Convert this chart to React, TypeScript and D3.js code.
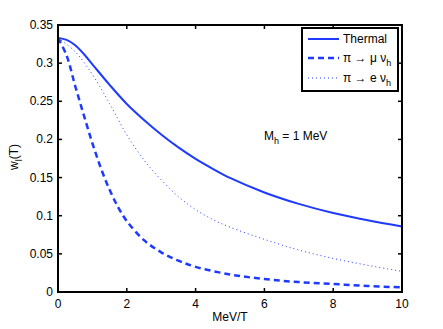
import React from 'react';
import * as d3 from 'd3';

const thermalX = [0, 0.25, 0.5, 0.75, 1, 1.5, 2, 2.5, 3, 3.5, 4, 4.5, 5, 6, 7, 8, 9, 10];
const thermalY = [0.333, 0.3305, 0.3235, 0.312, 0.2985, 0.2715, 0.2465, 0.2255, 0.2065, 0.1895, 0.1745, 0.1615, 0.1495, 0.1305, 0.1155, 0.1035, 0.094, 0.086];

const muX = [0, 0.25, 0.5, 0.75, 1, 1.25, 1.5, 1.75, 2, 2.5, 3, 3.5, 4, 5, 6, 7, 8, 9, 10];
const muY = [0.333, 0.31, 0.27, 0.232, 0.195, 0.162, 0.134, 0.111, 0.093, 0.068, 0.052, 0.041, 0.033, 0.023, 0.017, 0.013, 0.0105, 0.008, 0.006];

const eX = [0, 0.5, 1, 1.5, 2, 2.5, 3, 3.5, 4, 4.5, 5, 6, 7, 8, 9, 10];
const eY = [0.333, 0.315, 0.285, 0.247, 0.206, 0.173, 0.147, 0.125, 0.108, 0.095, 0.085, 0.069, 0.055, 0.044, 0.035, 0.027];

const xTicks = [0, 2, 4, 6, 8, 10];
const yTicks = [0, 0.05, 0.1, 0.15, 0.2, 0.25, 0.3, 0.35];

const BLUE = '#1f3aff';
const FONT = 'Liberation Sans, Arial, sans-serif';

export default function App() {
  const width = 443;
  const height = 329;
  const margin = { left: 58, top: 25, right: 41, bottom: 37 };

  const x = d3.scaleLinear().domain([0, 10]).range([margin.left, width - margin.right]);
  const y = d3.scaleLinear().domain([0, 0.35]).range([height - margin.bottom, margin.top]);

  const line = d3.line<[number, number]>()
    .x(d => x(d[0]))
    .y(d => y(d[1]))
    .curve(d3.curveCatmullRom.alpha(0.5));

  const zip = (xs: number[], ys: number[]) => xs.map((v, i) => [v, ys[i]] as [number, number]);

  const series = [
    { name: 'thermal', d: line(zip(thermalX, thermalY)), width: 2, dash: undefined },
    { name: 'mu', d: line(zip(muX, muY)), width: 2.5, dash: '6,4' },
    { name: 'e', d: line(zip(eX, eY)), width: 1, dash: '1,3' },
  ];

  const x0 = x(0), x1 = x(10), y0 = y(0), y1 = y(0.35);
  const tick = 4;

  const legend = { x: 302, y: 28, w: 96, h: 63 };
  const rows = [
    { y: 39, dash: undefined, width: 2, label: <>Thermal</> },
    { y: 58, dash: '6,4', width: 2.5, label: <>π → μ ν<tspan fontSize={9} dy={4}>h</tspan></> },
    { y: 78, dash: '1,3', width: 1, label: <>π → e ν<tspan fontSize={9} dy={4}>h</tspan></> },
  ];

  return (
    <svg width={width} height={height} style={{ position: 'absolute', left: 0, top: 0, background: '#fff' }}
      fontFamily={FONT}>
      {series.map(s => (
        <path key={s.name} d={s.d || ''} fill="none" stroke={BLUE} strokeWidth={s.width}
          strokeDasharray={s.dash} />
      ))}

      {/* ticks, inward on all sides */}
      {xTicks.map(t => (
        <g key={'x' + t}>
          <line x1={x(t)} x2={x(t)} y1={y0} y2={y0 - tick} stroke="#000" strokeWidth={1.5} />
          <line x1={x(t)} x2={x(t)} y1={y1} y2={y1 + tick} stroke="#000" strokeWidth={1.5} />
          <text x={x(t)} y={y0 + 16} fontSize={12} textAnchor="middle">{t}</text>
        </g>
      ))}
      {yTicks.map(t => (
        <g key={'y' + t}>
          <line x1={x0} x2={x0 + tick} y1={y(t)} y2={y(t)} stroke="#000" strokeWidth={1.5} />
          <line x1={x1} x2={x1 - tick} y1={y(t)} y2={y(t)} stroke="#000" strokeWidth={1.5} />
          <text x={x0 - 5} y={y(t) + 4} fontSize={12} textAnchor="end">{t}</text>
        </g>
      ))}

      <rect x={x0} y={y1} width={x1 - x0} height={y0 - y1} fill="none" stroke="#000" strokeWidth={2} />

      <text x={(x0 + x1) / 2} y={321} fontSize={12} textAnchor="middle">MeV/T</text>
      <text transform="translate(18,157) rotate(-90)" fontSize={12} textAnchor="middle">
        w<tspan fontSize={9} dy={4}>l</tspan><tspan dy={-4}>(T)</tspan>
      </text>

      <text x={264} y={140} fontSize={12}>
        M<tspan fontSize={9} dy={4}>h</tspan><tspan dy={-4}> = 1 MeV</tspan>
      </text>

      <rect x={legend.x} y={legend.y} width={legend.w} height={legend.h} fill="#fff" stroke="#000" strokeWidth={2} />
      {rows.map((r, i) => (
        <g key={i}>
          <line x1={308} x2={339} y1={r.y} y2={r.y} stroke={BLUE} strokeWidth={r.width} strokeDasharray={r.dash} />
          <text x={343} y={r.y + 4} fontSize={12}>{r.label}</text>
        </g>
      ))}
    </svg>
  );
}
